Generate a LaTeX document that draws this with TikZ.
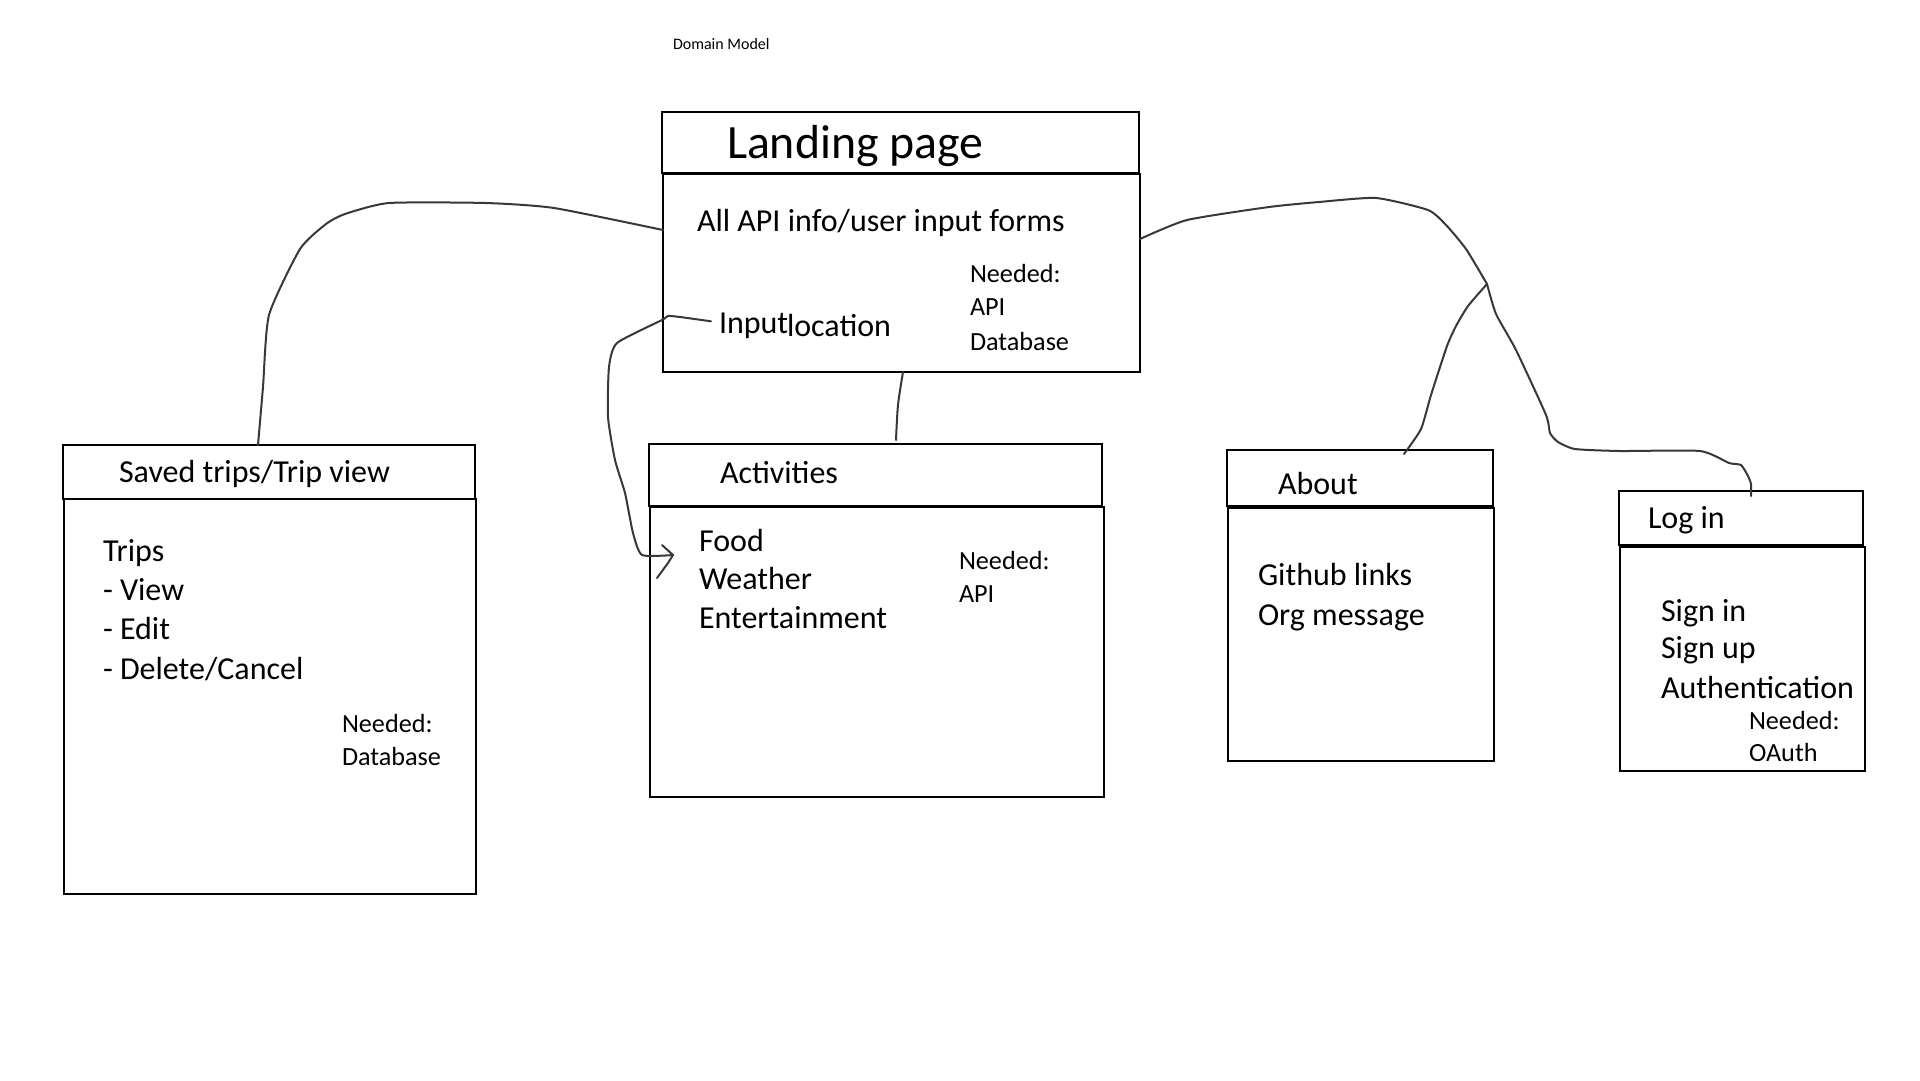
\documentclass[tikz,border=0pt]{standalone}
\usepackage{fontspec}
\setmainfont{Carlito}
\usetikzlibrary{calc}
\begin{document}
\begin{tikzpicture}[x=1pt,y=-1pt,
  box/.style={draw=black, line width=2.6pt, inner sep=0pt, outer sep=0pt, anchor=north west, rectangle},
  conn/.style={draw=black!78, line width=2pt, line cap=round, line join=round},
  txt/.style={anchor=base west, inner sep=0pt, outer sep=0pt, font=\fontsize{32}{38}\selectfont},
  small/.style={anchor=base west, inner sep=0pt, outer sep=0pt, font=\fontsize{26.2}{31}\selectfont},
  big/.style={anchor=base west, inner sep=0pt, outer sep=0pt, font=\fontsize{47.8}{57}\selectfont},
  tiny/.style={anchor=base west, inner sep=0pt, outer sep=0pt, font=\fontsize{16}{19}\selectfont}]
\useasboundingbox[fill=white] (0,0) rectangle (1920,1080);

% title
\node[tiny] (title) at (673,49) {Domain Model};

% Landing page
\node[box, minimum width=477pt, minimum height=61pt] (lphead) at (662,112) {};
\node[box, minimum width=477pt, minimum height=198pt] (lpbody) at (663,174) {};
\node[big] (lptitle) at (727,158) {Landing page};
\node[txt] (lpforms) at (697,231) {All API info/user input forms};
\node[txt] (lpinput) at (719,333) {Input};
\node[txt] (lploc) at (787,336) {location};
\node[small] (lpn1) at (970,282) {Needed:};
\node[small] (lpn2) at (970,315) {API};
\node[small] (lpn3) at (970,350) {Database};

% Saved trips
\node[box, minimum width=412pt, minimum height=54pt] (svhead) at (63,445) {};
\node[box, minimum width=412pt, minimum height=395pt] (svbody) at (64,499) {};
\node[txt] (svtitle) at (119,482) {Saved trips/Trip view};
\node[txt] (sv1) at (103,561) {Trips};
\node[txt] (sv2) at (103,600) {- View};
\node[txt] (sv3) at (103,639) {- Edit};
\node[txt] (sv4) at (103,679) {- Delete/Cancel};
\node[small] (svn1) at (342,732) {Needed:};
\node[small] (svn2) at (342,765) {Database};

% Activities
\node[box, minimum width=453pt, minimum height=62pt] (achead) at (649,444) {};
\node[box, minimum width=454pt, minimum height=290pt] (acbody) at (650,507) {};
\node[txt] (actitle) at (720,483) {Activities};
\node[txt] (ac1) at (699,551) {Food};
\node[txt] (ac2) at (699,589) {Weather};
\node[txt] (ac3) at (699,628) {Entertainment};
\node[small] (acn1) at (959,569) {Needed:};
\node[small] (acn2) at (959,602) {API};

% About
\node[box, minimum width=266pt, minimum height=56pt] (abhead) at (1227,450) {};
\node[box, minimum width=266pt, minimum height=253pt] (abbody) at (1228,508) {};
\node[txt] (abtitle) at (1278,494) {About};
\node[txt] (ab1) at (1258,585) {Github links};
\node[txt] (ab2) at (1258,625) {Org message};

% Log in
\node[box, minimum width=244pt, minimum height=54pt] (lihead) at (1619,491) {};
\node[box, minimum width=245pt, minimum height=224pt] (libody) at (1620,547) {};
\node[txt] (lititle) at (1648,528) {Log in};
\node[txt] (li1) at (1661,621) {Sign in};
\node[txt] (li2) at (1661,658) {Sign up};
\node[txt] (li3) at (1661,698) {Authentication};
\node[small] (lin1) at (1749,729) {Needed:};
\node[small] (lin2) at (1749,761) {OAuth};

% connector coordinates
\coordinate (lpL) at ($(lpbody.north west)+(0,56)$);
\coordinate (svT) at ($(svhead.north west)+(195,0)$);
\coordinate (lpB) at ($(lpbody.south west)+(240,0)$);
\coordinate (acT) at ($(achead.north west)+(247,-4)$);
\coordinate (lpR) at ($(lpbody.north east)+(0,65)$);
\coordinate (junc) at (1487,284);
\coordinate (abT) at ($(abhead.north west)+(177,4)$);
\coordinate (liT) at ($(lihead.north west)+(132,5)$);
\coordinate (inS) at ($(lpinput.west)+(-8,-4)$);
\coordinate (acTip) at (673,555);

% Landing -> Saved trips
\draw[conn] plot[smooth, tension=0.35] coordinates {(lpL) (554,208) (486,203) (389,203) (345,214) (326,224) (300,249) (269,315) (263,387) (svT)};

% Landing -> Activities
\draw[conn] plot[smooth, tension=0.5] coordinates {(lpB) (898,405) (acT)};

% Input location -> Activities (arrow)
\draw[conn] plot[smooth, tension=0.35] coordinates {(inS) (680,317) (668,316) (662,320) (617,343) (609,367) (608,417) (615,460) (625,493) (633,533) (642,555) (acTip)};
\draw[conn] (662,545) -- (acTip) -- (668,563) -- (657,578);

% Landing -> junction
\draw[conn] plot[smooth, tension=0.35] coordinates {(lpR) (1187,220) (1269,207) (1319,202) (1376,198) (1428,210) (1446,225) (1466,249) (junc)};
% junction -> About
\draw[conn] plot[smooth, tension=0.35] coordinates {(junc) (1468,306) (1456,326) (1447,346) (1431,395) (1421,429) (abT)};
% junction -> Log in
\draw[conn] plot[smooth, tension=0.35] coordinates {(junc) (1496,314) (1516,350) (1546,415) (1550,433) (1558,442) (1575,449) (1620,451) (1700,451) (1729,463) (1741,465) (1748,476) (1751,484) (liT)};
\end{tikzpicture}
\end{document}
